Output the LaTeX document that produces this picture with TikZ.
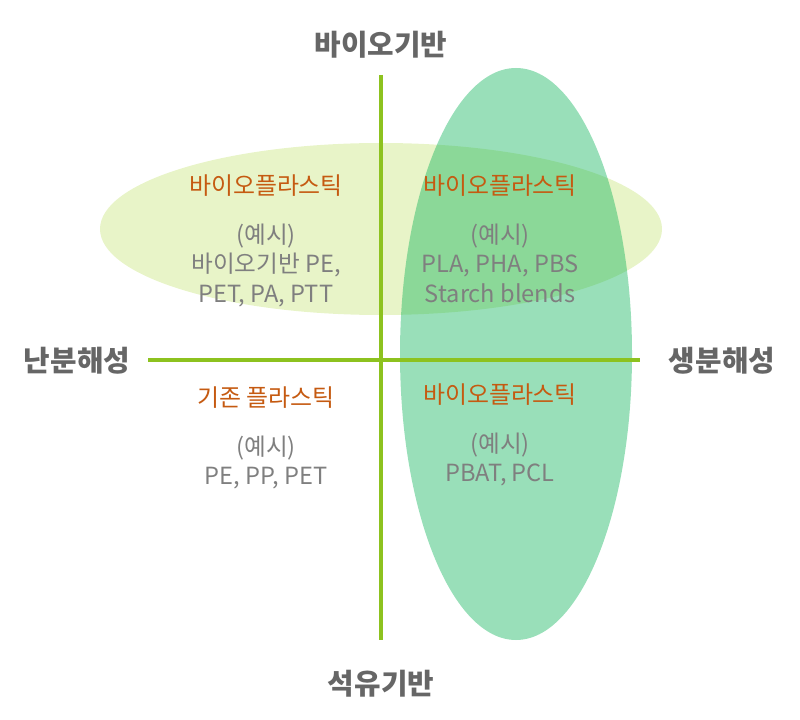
\documentclass[tikz,border=0pt]{standalone}
\usepackage{fontspec}
\setmainfont{Noto Sans CJK KR}
\usepackage{tikz}
\usetikzlibrary{positioning}
\definecolor{axisgreen}{HTML}{8DC21F}
\definecolor{paleleaf}{HTML}{E8F4C8}
\definecolor{mint}{HTML}{00B050}
\definecolor{rust}{HTML}{C55A11}
\definecolor{gray50}{HTML}{7F7F7F}
\definecolor{gray40}{HTML}{666666}

\begin{document}
\begin{tikzpicture}[
    x=0.025cm, y=-0.025cm,
    axislabel/.style={text=gray40, font=\fontsize{20.5}{24}\selectfont\bfseries, inner sep=0pt},
    kind/.style={text=rust, font=\fontsize{17}{21}\selectfont, inner sep=0pt},
    sample/.style={text=gray50, align=center, font=\fontsize{16.8}{20.8}\selectfont, inner sep=0pt},
    axis/.style={draw=axisgreen, line width=2.8pt}
]
    \useasboundingbox (0,0) rectangle (800,720);

    % regions
    \fill[paleleaf] (381,229) ellipse [x radius=281, y radius=86];
    \fill[mint, fill opacity=0.4] (516,354) ellipse [x radius=116, y radius=286];

    % axes
    \coordinate (vtop) at (381,75);
    \coordinate (vbot) at (381,640);
    \coordinate (hleft) at (148,360);
    \coordinate (hright) at (640,360);
    \draw[axis] (vtop) -- (vbot);
    \draw[axis] (hleft) -- (hright);

    \node[axislabel] (bio)  at (381,45)  {바이오기반};
    \node[axislabel] (oil)  at (381,684) {석유기반};
    \node[axislabel] (nond) at (77,361)  {난분해성};
    \node[axislabel] (degr) at (722,361) {생분해성};

    % quadrants
    \node[kind] (k1) at (266,186) {바이오플라스틱};
    \node[sample, below=19pt of k1] (s1) {(예시)\\바이오기반 PE,\\PET, PA, PTT};
    \node[kind] (k2) at (500,186) {바이오플라스틱};
    \node[sample, below=19pt of k2] (s2) {(예시)\\PLA, PHA, PBS\\Starch blends};
    \node[kind] (k3) at (266,398) {기존 플라스틱};
    \node[sample, below=19pt of k3] (s3) {(예시)\\PE, PP, PET};
    \node[kind] (k4) at (500,395) {바이오플라스틱};
    \node[sample, below=19pt of k4] (s4) {(예시)\\PBAT, PCL};
\end{tikzpicture}
\end{document}
